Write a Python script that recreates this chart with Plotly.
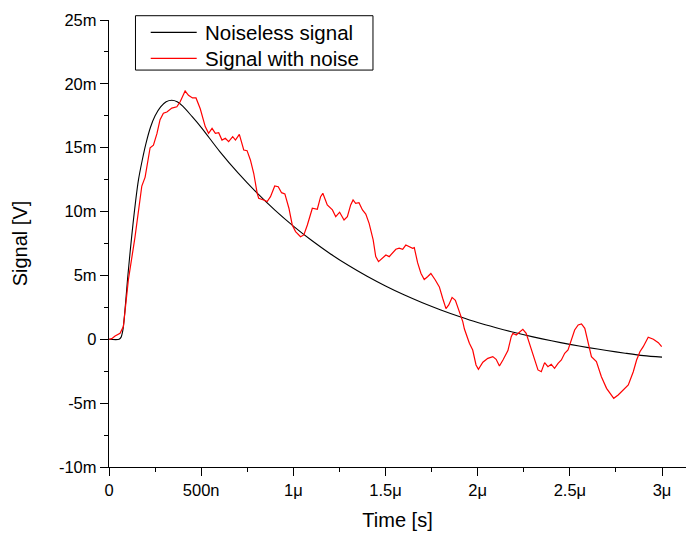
import plotly.graph_objects as go

# time in microseconds, signal in millivolts (axis labels carry the SI prefixes)
t_clean = [0, 0.055, 0.065, 0.075, 0.085, 0.10, 0.115, 0.13, 0.145, 0.16, 0.18, 0.20,
           0.225, 0.25, 0.28, 0.31, 0.34, 0.37, 0.40, 0.45, 0.5, 0.6, 0.7, 0.8, 0.9,
           1.0, 1.1, 1.2, 1.3, 1.4, 1.5, 1.6, 1.7, 1.8, 1.9, 2.0, 2.1, 2.2, 2.3, 2.4,
           2.5, 2.6, 2.7, 2.8, 2.9, 3.0]
v_clean = [0, 0, 0.15, 0.7, 2.0, 4.6, 6.9, 9.0, 10.9, 12.5, 14.0, 15.3,
           16.6, 17.5, 18.2, 18.6, 18.72, 18.6, 18.25, 17.45, 16.6, 14.72, 13.03, 11.5, 10.11,
           8.86, 7.73, 6.7, 5.77, 4.93, 4.17, 3.48, 2.86, 2.3, 1.79, 1.32, 0.91, 0.53, 0.19, -0.12,
           -0.4, -0.65, -0.88, -1.09, -1.28, -1.4]

t_noisy = [0, 0.015, 0.033, 0.060, 0.078, 0.105, 0.141, 0.169, 0.178, 0.196, 0.214, 0.223,
           0.241, 0.260, 0.277, 0.295, 0.314, 0.341, 0.368, 0.386, 0.413, 0.431, 0.453,
           0.472, 0.495, 0.522, 0.540, 0.559, 0.577, 0.595, 0.613, 0.631, 0.649, 0.671,
           0.686, 0.707, 0.731, 0.749, 0.767, 0.785, 0.804, 0.812, 0.839, 0.858, 0.876,
           0.899, 0.918, 0.936, 0.954, 0.976, 0.994, 1.012, 1.039, 1.057, 1.076, 1.103,
           1.130, 1.148, 1.160, 1.184, 1.212, 1.230, 1.251, 1.275, 1.293, 1.311, 1.324,
           1.338, 1.356, 1.375, 1.393, 1.411, 1.433, 1.447, 1.462, 1.484, 1.502, 1.520,
           1.538, 1.556, 1.574, 1.593, 1.610, 1.628, 1.647, 1.656, 1.674, 1.692, 1.710,
           1.728, 1.746, 1.770, 1.792, 1.810, 1.828, 1.843, 1.861, 1.879, 1.900, 1.919,
           1.928, 1.955, 1.973, 1.991, 2.004, 2.028, 2.055, 2.082, 2.100, 2.118, 2.137,
           2.164, 2.182, 2.191, 2.209, 2.227, 2.245, 2.263, 2.281, 2.308, 2.327, 2.345,
           2.363, 2.381, 2.399, 2.417, 2.436, 2.454, 2.472, 2.490, 2.508, 2.526, 2.545,
           2.563, 2.581, 2.599, 2.617, 2.644, 2.671, 2.699, 2.717, 2.738, 2.762, 2.789,
           2.817, 2.844, 2.862, 2.880, 2.898, 2.925, 2.953, 2.980, 2.998]
v_noisy = [0, 0.05, 0.26, 0.47, 0.99, 4.64, 8.0, 11.4, 12.0, 12.7, 14.3, 15.0,
           15.2, 16.1, 17.2, 17.7, 17.8, 18.1, 18.2, 18.6, 19.45, 19.1, 18.9,
           18.9, 18.05, 16.65, 16.13, 16.52, 16.13, 16.18, 15.6, 15.74, 15.47, 15.87,
           15.6, 16.05, 14.82, 14.77, 14.04, 13.0, 11.43, 11.04, 10.91, 10.78, 11.17,
           12.0, 11.95, 11.48, 11.38, 10.26, 8.95, 8.43, 8.03, 8.17, 8.95, 10.26,
           10.18, 11.17, 11.43, 10.52, 10.13, 9.6, 9.95, 9.34, 9.6, 10.52, 10.91,
           10.65, 10.7, 10.13, 9.81, 9.08, 7.78, 6.47, 6.08, 6.34, 6.6, 6.47,
           6.73, 7.05, 7.13, 7.05, 7.38, 7.25, 7.13, 7.18, 6.0, 5.17, 4.68,
           4.9, 5.15, 4.64, 4.1, 3.21, 2.4, 2.69, 3.28, 3.05, 2.2, 1.38,
           0.8, -0.31, -0.84, -2.01, -2.35, -1.8, -1.49, -1.36, -1.57, -2.09, -1.62,
           -0.89, 0.2, 0.47, 0.34, 0.6, 0.78, 0.47, -0.31, -1.62, -2.4, -2.54,
           -1.83, -2.15, -1.96, -2.27, -1.88, -1.62, -1.1, -0.84, -0.05, 0.73, 1.12,
           1.2, 0.86, -0.19, -1.36, -1.75, -2.93, -3.84, -4.23, -4.62, -4.36, -3.97,
           -3.58, -2.54, -1.62, -0.97, -0.58, 0.16, 0.0, -0.27, -0.58]

x_tickvals = [0, 0.5, 1, 1.5, 2, 2.5, 3]
x_ticktext = ["0", "500n", "1\u03bc", "1.5\u03bc", "2\u03bc", "2.5\u03bc", "3\u03bc"]
y_tickvals = [-10, -5, 0, 5, 10, 15, 20, 25]
y_ticktext = ["-10m", "-5m", "0", "5m", "10m", "15m", "20m", "25m"]

series_names = ["Noiseless signal", "Signal with noise"]
series_colors = ["black", "#ff0000"]

FONT = "Liberation Sans, Arial, sans-serif"

fig = go.Figure()
fig.add_trace(go.Scatter(
    x=t_clean, y=v_clean, mode="lines", name=series_names[0],
    line=dict(color=series_colors[0], width=1.1, shape="spline", smoothing=0.8),
))
fig.add_trace(go.Scatter(
    x=t_noisy, y=v_noisy, mode="lines", name=series_names[1],
    line=dict(color=series_colors[1], width=1.2),
))

axis_common = dict(
    showline=True, linecolor="black", linewidth=1.3, mirror=False,
    showgrid=False, zeroline=False, automargin=False,
    ticks="outside", ticklen=8, tickwidth=1.3, tickcolor="black",
    tickfont=dict(family=FONT, size=16.5, color="black"),
)

fig.update_xaxes(
    **axis_common,
    range=[0, 3.13],
    tickmode="array", tickvals=x_tickvals, ticktext=x_ticktext,
    minor=dict(tickmode="linear", tick0=0, dtick=0.25, ticks="outside",
               ticklen=4, tickwidth=1.3, tickcolor="black"),
    title=dict(text="Time [s]", font=dict(family=FONT, size=20, color="black"), standoff=15),
)
fig.update_yaxes(
    **axis_common,
    range=[-10, 25],
    tickmode="array", tickvals=y_tickvals, ticktext=y_ticktext,
    minor=dict(tickmode="linear", tick0=-10, dtick=2.5, ticks="outside",
               ticklen=4, tickwidth=1.3, tickcolor="black"),
    title=dict(text="Signal [V]", font=dict(family=FONT, size=20, color="black"), standoff=25),
)

# legend drawn as a boxed key in the upper left, like the original
fig.add_shape(type="rect", xref="paper", yref="paper",
              x0=0.0459, x1=0.4575, y0=0.888, y1=1.0096,
              line=dict(color="black", width=1), fillcolor="white", layer="above")
for name, color, yk in zip(series_names, series_colors, [0.9725, 0.9142]):
    fig.add_shape(type="line", xref="paper", yref="paper",
                  x0=0.0723, x1=0.152, y0=yk, y1=yk,
                  line=dict(color=color, width=1.2), layer="above")
    fig.add_annotation(text=name, xref="paper", yref="paper", x=0.1636, y=yk,
                       xanchor="left", yanchor="middle", showarrow=False,
                       font=dict(family=FONT, size=20.5, color="black"))

fig.update_layout(
    width=689, height=526,
    margin=dict(l=101, r=11, t=12, b=67, autoexpand=False),
    paper_bgcolor="white", plot_bgcolor="white",
    showlegend=False,
)

fig.write_html("out.html")
